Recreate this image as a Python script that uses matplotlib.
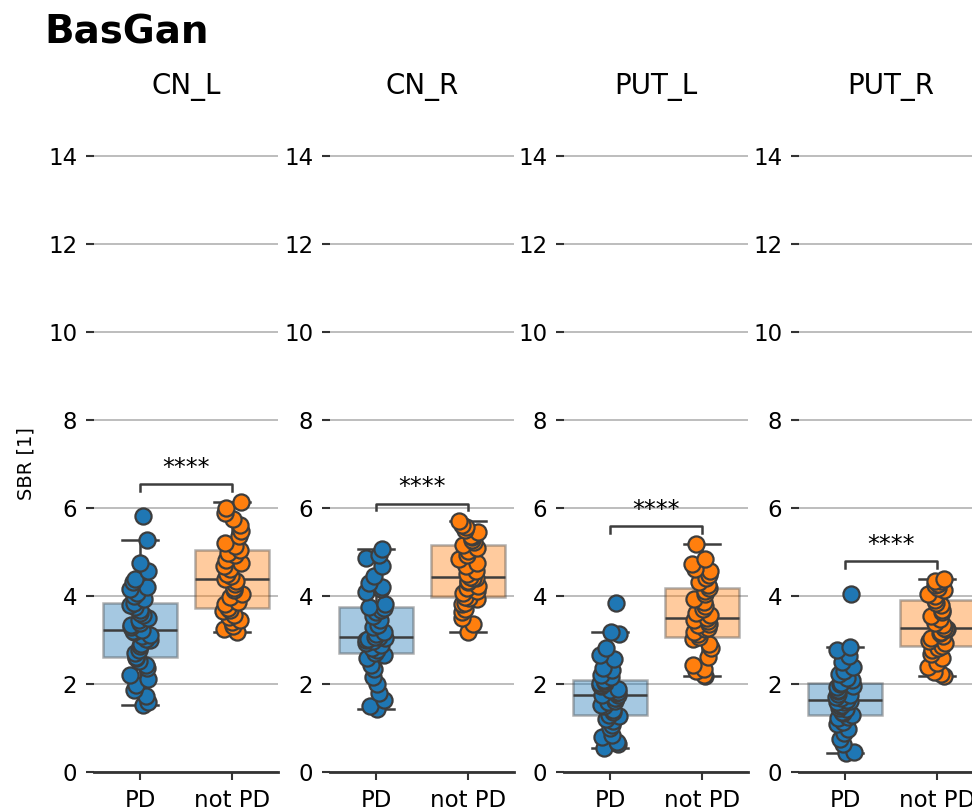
import numpy as np
import matplotlib.pyplot as plt

# SBR values per region
regions = ['CN_L', 'CN_R', 'PUT_L', 'PUT_R']
groups = ['PD', 'not PD']

cn_l_pd = [1.52, 1.60, 1.73, 1.86, 1.97, 2.11, 2.21, 2.36, 2.44, 2.53, 2.58,
           2.62, 2.71, 2.77, 2.86, 2.91, 2.99, 3.03, 3.09, 3.12, 3.17, 3.20,
           3.23, 3.29, 3.33, 3.39, 3.45, 3.49, 3.57, 3.61, 3.69, 3.74, 3.79,
           3.84, 3.93, 4.01, 4.07, 4.16, 4.21, 4.31, 4.39, 4.56, 4.74, 5.27, 5.82]
cn_l_notpd = [3.18, 3.26, 3.32, 3.41, 3.46, 3.53, 3.57, 3.65, 3.68, 3.73,
              3.81, 3.87, 3.98, 4.04, 4.13, 4.19, 4.28, 4.33, 4.39, 4.46,
              4.51, 4.61, 4.67, 4.76, 4.82, 4.92, 4.97, 5.05, 5.13, 5.21,
              5.36, 5.47, 5.61, 5.74, 5.89, 6.01, 6.14]
cn_r_pd = [1.43, 1.50, 1.63, 1.79, 2.01, 2.17, 2.33, 2.44, 2.59, 2.65, 2.70,
           2.77, 2.81, 2.89, 2.92, 2.98, 3.00, 3.02, 3.05, 3.06, 3.07, 3.13,
           3.19, 3.29, 3.35, 3.46, 3.54, 3.63, 3.67, 3.72, 3.75, 3.81, 4.09,
           4.16, 4.21, 4.29, 4.46, 4.69, 4.86, 4.94, 5.07]
cn_r_notpd = [3.18, 3.36, 3.49, 3.63, 3.71, 3.81, 3.85, 3.93, 3.95, 3.98,
              4.06, 4.11, 4.19, 4.23, 4.31, 4.34, 4.40, 4.41, 4.44, 4.51,
              4.57, 4.67, 4.74, 4.85, 4.92, 5.03, 5.09, 5.16, 5.23, 5.27,
              5.34, 5.37, 5.45, 5.49, 5.57, 5.62, 5.70]
put_l_pd = [0.54, 0.63, 0.69, 0.79, 0.84, 0.99, 1.07, 1.17, 1.21, 1.28, 1.30,
            1.37, 1.41, 1.49, 1.53, 1.60, 1.62, 1.68, 1.69, 1.74, 1.75, 1.79,
            1.81, 1.87, 1.89, 1.95, 1.97, 2.02, 2.03, 2.07, 2.09, 2.16, 2.21,
            2.31, 2.37, 2.56, 2.65, 2.81, 3.14, 3.18, 3.84]
put_l_notpd = [2.18, 2.21, 2.29, 2.34, 2.43, 2.61, 2.81, 2.91, 3.02, 3.07,
               3.14, 3.17, 3.24, 3.27, 3.34, 3.37, 3.43, 3.45, 3.50, 3.57,
               3.61, 3.71, 3.77, 3.87, 3.94, 4.05, 4.11, 4.18, 4.26, 4.31,
               4.41, 4.47, 4.56, 4.61, 4.73, 4.84, 5.18]
put_r_pd = [0.43, 0.45, 0.63, 0.74, 0.89, 0.97, 1.09, 1.14, 1.23, 1.26, 1.30,
            1.35, 1.37, 1.43, 1.45, 1.51, 1.53, 1.58, 1.59, 1.62, 1.64, 1.68,
            1.70, 1.76, 1.78, 1.84, 1.86, 1.93, 1.95, 1.99, 2.02, 2.09, 2.14,
            2.23, 2.29, 2.39, 2.49, 2.63, 2.77, 2.85, 4.05]
put_r_notpd = [2.18, 2.23, 2.27, 2.39, 2.47, 2.59, 2.67, 2.77, 2.81, 2.86,
               2.93, 2.97, 3.05, 3.08, 3.15, 3.18, 3.24, 3.25, 3.28, 3.34,
               3.39, 3.48, 3.54, 3.63, 3.69, 3.79, 3.84, 3.91, 3.99, 4.04,
               4.13, 4.17, 4.25, 4.28, 4.34, 4.35, 4.39]

data = {
    'CN_L': [cn_l_pd, cn_l_notpd],
    'CN_R': [cn_r_pd, cn_r_notpd],
    'PUT_L': [put_l_pd, put_l_notpd],
    'PUT_R': [put_r_pd, put_r_notpd],
}
sig_label = '****'

colors = ['#1f77b4', '#ff7f0e']
dark = '#3d3d3d'
rng = np.random.default_rng(7)  # jitter only

fig = plt.figure(figsize=(9.72, 8.11), dpi=100)
fig.text(0.046, 1 - 33 / 811, 'BasGan', fontsize=28, fontweight='bold', va='center')

lefts = [94, 330, 564, 799]
for k, reg in enumerate(regions):
    ax = fig.add_axes([lefts[k] / 972, 39 / 811, 184 / 972, 617 / 811])
    vals = data[reg]

    bp = ax.boxplot(vals, positions=[0, 1], widths=0.8, patch_artist=True,
                    showfliers=False, zorder=2,
                    whiskerprops=dict(color=dark, linewidth=1.8),
                    capprops=dict(color=dark, linewidth=1.8),
                    medianprops=dict(color=dark, linewidth=1.8))
    for patch, c in zip(bp['boxes'], colors):
        patch.set_facecolor(c)
        patch.set_edgecolor(dark)
        patch.set_linewidth(1.8)
        patch.set_alpha(0.4)
    for cap in bp['caps']:
        mid = cap.get_xdata().mean()
        cap.set_xdata([mid - 0.2, mid + 0.2])

    for i, v in enumerate(vals):
        xs = i + rng.uniform(-0.11, 0.11, len(v))
        ax.scatter(xs, v, s=135, color=colors[i], edgecolor=dark,
                   linewidth=1.6, zorder=3)

    # significance bracket
    top = max(max(v) for v in vals) + 0.4
    ax.plot([0, 0, 1, 1], [top - 0.15, top, top, top - 0.15],
            color=dark, linewidth=1.8, zorder=4)
    ax.text(0.5, top + 0.1, sig_label, ha='center', va='bottom', fontsize=17)

    ax.set_xlim(-0.5, 1.5)
    ax.set_ylim(0, 14.02)
    ax.set_yticks(range(0, 15, 2))
    ax.set_xticks([0, 1])
    ax.set_xticklabels(groups)
    ax.yaxis.grid(True, color='#b8b8b8', linewidth=1.3, zorder=0)
    ax.set_axisbelow(True)
    for s in ['top', 'right', 'left']:
        ax.spines[s].set_visible(False)
    ax.spines['bottom'].set_linewidth(2)
    ax.spines['bottom'].set_color('#333333')
    ax.tick_params(labelsize=16.5, length=6, width=1.5, color='#333333', pad=6)
    ax.set_title(reg, fontsize=20, pad=44)
    if k == 0:
        ax.set_ylabel('SBR [1]', fontsize=14, labelpad=9)

plt.savefig('out.png', dpi=100)
